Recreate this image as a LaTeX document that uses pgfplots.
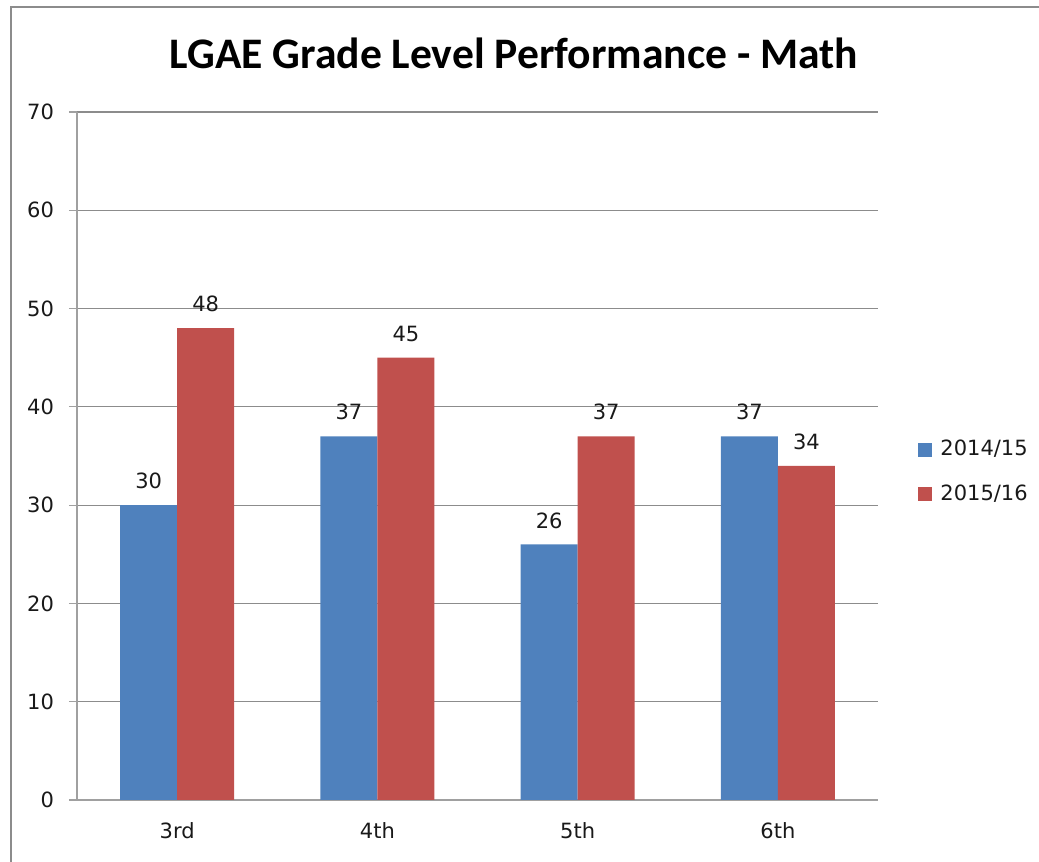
\documentclass[border=0pt]{standalone}
\usepackage{fontspec}
\setmainfont{DejaVu Sans}
\newfontfamily\titlefont{Carlito}
\usepackage{pgfplots}
\pgfplotsset{compat=1.18}
\definecolor{cblue}{HTML}{4F81BD}
\definecolor{cred}{HTML}{C0504D}
\definecolor{gridg}{HTML}{8C8C8C}
\definecolor{axg}{HTML}{A0A0A0}
\begin{document}
\begin{tikzpicture}
\useasboundingbox (0,0) rectangle (519.5pt,431pt);
\draw[gridg, line width=1pt] (5.5pt,0) -- (5.5pt,427.5pt) -- (519.5pt,427.5pt);
\node[anchor=base, font=\titlefont\bfseries\fontsize{21.8}{26}\selectfont] at (257pt,396.5pt) {LGAE Grade Level Performance - Math};
\begin{axis}[
  at={(38.5pt,31pt)}, anchor=south west,
  scale only axis, width=400.5pt, height=344pt,
  ybar=0pt, bar width=28.5pt,
  xmin=-0.5, xmax=3.5, ymin=0, ymax=70,
  ytick={0,10,...,70},
  xtick={0,1,2,3}, xticklabels={3rd,4th,5th,6th},
  extra x ticks={-0.5,0.5,1.5,2.5,3.5}, extra x tick labels={},
  extra x tick style={major tick length=4pt, tick style={axg, line width=0.6pt}, grid=none, tick pos=bottom, tick align=outside},
  x tick style={draw=none},
  y tick style={axg, line width=0.6pt},
  major tick length=4pt, tick align=outside, tick pos=left,
  ymajorgrids, grid style={gridg, line width=0.6pt},
  axis x line*=bottom, axis y line*=left,
  axis line style={axg, line width=0.8pt},
  /pgf/number format/assume math mode=true,
  tick label style={font=\fontsize{10.5}{12}\selectfont, text=black!90},
  xticklabel style={yshift=-3.5pt},
  yticklabel style={xshift=-4pt},
  nodes near coords,
  every node near coord/.append style={font=\fontsize{10.5}{12}\selectfont, text=black!90, yshift=4.5pt},
  legend style={at={(1.0425,0.535)}, anchor=north west, draw=none, fill=none,
    font=\fontsize{10.5}{12}\selectfont, text=black!90, row sep=9pt,
    legend cell align=left, nodes={inner xsep=4pt}},
  legend image code/.code={\fill[#1] (0pt,-3.5pt) rectangle (7pt,3.5pt);},
]
\addplot[draw=none, fill=cblue] coordinates {(0,30) (1,37) (2,26) (3,37)};
\addplot[draw=none, fill=cred] coordinates {(0,48) (1,45) (2,37) (3,34)};
\legend{2014/15,2015/16}
\end{axis}
\end{tikzpicture}
\end{document}
